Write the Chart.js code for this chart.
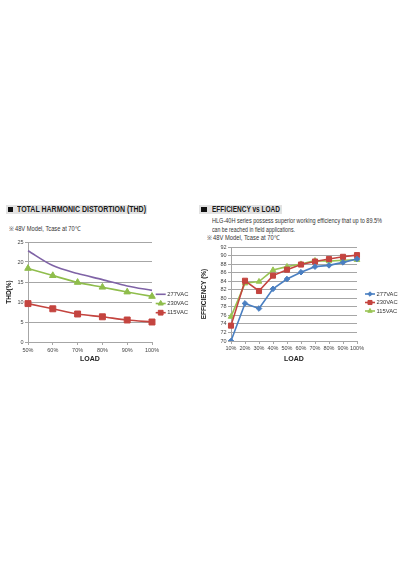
<!DOCTYPE html>
<html>
<head>
<meta charset="utf-8">
<script src="https://cdn.jsdelivr.net/npm/chart.js@4.4.1/dist/chart.umd.min.js"></script>
<style>
  html, body { margin: 0; padding: 0; background: #fff; }
  body { width: 400px; height: 567px; position: relative; overflow: hidden; font-family: "Liberation Sans", Arial, sans-serif; color: #222; }
  .abs { position: absolute; white-space: nowrap; transform-origin: 0 50%; }
  .banda { position: absolute; background: #e2e2e2; }
  .cuadro { position: absolute; background: #111; }
  .titulo { font-weight: bold; font-size: 9px; line-height: 9px; color: #1a1a1a; }
  .texto { font-size: 6.5px; line-height: 7px; color: #333; }
  canvas { position: absolute; }
</style>
</head>
<body>

<!-- Encabezado THD -->
<div class="banda" style="left:6px;top:204.5px;width:141px;height:9.5px"></div>
<div class="cuadro" style="left:7.5px;top:206.5px;width:5.5px;height:5.5px"></div>
<div class="abs titulo" data-w="129" style="left:17px;top:205px">TOTAL HARMONIC DISTORTION (THD)</div>
<div class="abs texto" data-w="71" style="left:9px;top:224.5px">※ 48V Model, Tcase at 70℃</div>

<!-- Encabezado Eficiencia -->
<div class="banda" style="left:199px;top:204.5px;width:83px;height:9.5px"></div>
<div class="cuadro" style="left:201px;top:206.5px;width:5.5px;height:5.5px"></div>
<div class="abs titulo" data-w="68" style="left:212px;top:205px">EFFICIENCY vs LOAD</div>
<div class="abs texto" data-w="170" style="left:212px;top:216.5px">HLG-40H series possess superior working efficiency that up to 89.5%</div>
<div class="abs texto" data-w="83" style="left:212px;top:225.5px">can be reached in field applications.</div>
<div class="abs texto" data-w="72" style="left:207px;top:234px">※ 48V Model, Tcase at 70℃</div>

<canvas id="thdChart" width="195" height="127" style="left:0;top:236px"></canvas>
<canvas id="efChart" width="202" height="123" style="left:198px;top:240px"></canvas>

<script>
// --- Datos ---
const seriesNombres = ['277VAC', '230VAC', '115VAC'];

const cargaTHD = ['50%', '60%', '70%', '80%', '90%', '100%'];
const thd277 = [22.8, 19.1, 17.1, 15.6, 14.0, 12.9];
const thd230 = [18.4, 16.6, 14.9, 13.7, 12.5, 11.4];
const thd115 = [9.6, 8.3, 7.0, 6.3, 5.5, 5.0];

const cargaEf = ['10%', '20%', '30%', '40%', '50%', '60%', '70%', '80%', '90%', '100%'];
const ef277 = [70.0, 78.8, 77.6, 82.2, 84.5, 86.1, 87.4, 87.7, 88.4, 89.2];
const ef230 = [73.6, 84.1, 81.7, 85.3, 86.7, 87.9, 88.6, 89.2, 89.7, 90.1];
const ef115 = [75.7, 83.5, 83.9, 86.6, 87.4, 88.0, 88.8, 88.7, 88.9, 89.0];

(function() {
    // Ajusta el ancho de los textos HTML al de la imagen
    document.querySelectorAll('[data-w]').forEach(el => {
        const w = el.getBoundingClientRect().width;
        el.style.transform = 'scaleX(' + (parseFloat(el.dataset.w) / w) + ')';
    });

    const fuente = 'Liberation Sans';
    const gris = '#a6a6a6';

    // Leyenda: línea + marcador + texto, a la derecha del área del gráfico
    const leyendaLineas = {
        id: 'leyendaLineas',
        afterDatasetsDraw(chart, args, opts) {
            const ctx = chart.ctx;
            const x0 = chart.chartArea.right + opts.dx;
            ctx.save();
            chart.data.datasets.forEach((ds, i) => {
                const y = opts.y0 + i * opts.paso;
                ctx.strokeStyle = ds.borderColor;
                ctx.lineWidth = ds.borderWidth;
                ctx.beginPath();
                ctx.moveTo(x0, y);
                ctx.lineTo(x0 + opts.largo, y);
                ctx.stroke();
                if (ds.pointRadius > 0 && Chart.helpers && Chart.helpers.drawPoint) {
                    ctx.fillStyle = ds.pointBackgroundColor;
                    ctx.strokeStyle = ds.pointBorderColor;
                    ctx.lineWidth = 1;
                    Chart.helpers.drawPoint(ctx, { pointStyle: ds.pointStyle, radius: ds.pointRadius * 0.8, borderWidth: 1, rotation: 0 }, x0 + opts.largo / 2, y);
                }
                ctx.fillStyle = '#333';
                ctx.font = '5.8px "' + fuente + '"';
                ctx.textBaseline = 'middle';
                ctx.textAlign = 'left';
                ctx.fillText(ds.label, x0 + opts.largo + 1.5, y);
            });
            ctx.restore();
        }
    };

    function serie(label, data, color, estilo, radio, curva) {
        return {
            label: label,
            data: data,
            borderColor: color,
            backgroundColor: color,
            pointBackgroundColor: color,
            pointBorderColor: color,
            borderWidth: 1.6,
            pointStyle: estilo,
            pointRadius: radio,
            pointBorderWidth: 1,
            tension: curva,
            fill: false
        };
    }

    function escalas(yMin, yMax, paso, tituloY, anchoY, altoX, padY, padX) {
        return {
            x: {
                grid: { display: true, drawOnChartArea: false, tickLength: 3, color: gris },
                border: { display: true, color: gris },
                ticks: { color: '#444', font: { family: fuente, size: 5.5 }, padding: padX, maxRotation: 0, autoSkip: false },
                title: { display: true, text: 'LOAD', color: '#222', font: { family: fuente, size: 7, weight: 'bold' }, padding: { top: 2, bottom: 0 } },
                afterFit: s => { s.height = altoX; }
            },
            y: {
                min: yMin,
                max: yMax,
                grid: { color: gris, tickLength: 3 },
                border: { display: true, color: gris },
                ticks: { stepSize: paso, autoSkip: false, color: '#444', font: { family: fuente, size: 5.5 }, padding: 1.5 },
                title: { display: true, text: tituloY, color: '#222', font: { family: fuente, size: 6.5, weight: 'bold' }, padding: { top: padY, bottom: 0 } },
                afterFit: s => { s.width = anchoY; }
            }
        };
    }

    // --- Gráfico THD ---
    new Chart(document.getElementById('thdChart'), {
        type: 'line',
        data: {
            labels: cargaTHD,
            datasets: [
                serie(seriesNombres[0], thd277, '#7f63a6', 'circle', 0, 0.3),
                serie(seriesNombres[1], thd230, '#8fbd4c', 'triangle', 3.8, 0.3),
                serie(seriesNombres[2], thd115, '#c4443f', 'rect', 4.2, 0.3)
            ]
        },
        options: {
            responsive: false,
            animation: false,
            devicePixelRatio: 1,
            layout: { padding: { left: 0, top: 6, right: 43, bottom: 0 } },
            scales: escalas(0, 25, 5, 'THD(%)', 28, 21, 5.4, 2),
            plugins: {
                legend: { display: false },
                tooltip: { enabled: false },
                leyendaLineas: { dx: 3.7, y0: 58.3, paso: 9.2, largo: 10 }
            }
        },
        plugins: [leyendaLineas]
    });

    // --- Gráfico Eficiencia ---
    new Chart(document.getElementById('efChart'), {
        type: 'line',
        data: {
            labels: cargaEf,
            datasets: [
                serie(seriesNombres[0], ef277, '#4a7fc1', 'rectRot', 2.8, 0),
                serie(seriesNombres[1], ef230, '#c4443f', 'rect', 3.6, 0),
                serie(seriesNombres[2], ef115, '#99c454', 'triangle', 3.2, 0)
            ]
        },
        options: {
            responsive: false,
            animation: false,
            devicePixelRatio: 1,
            layout: { padding: { left: 0, top: 7, right: 43, bottom: 0 } },
            scales: escalas(70, 92, 2, 'EFFICIENCY (%)', 33, 22, 2.4, 1),
            plugins: {
                legend: { display: false },
                tooltip: { enabled: false },
                leyendaLineas: { dx: 8, y0: 54, paso: 8.5, largo: 10 }
            }
        },
        plugins: [leyendaLineas]
    });
})();
</script>
</body>
</html>
